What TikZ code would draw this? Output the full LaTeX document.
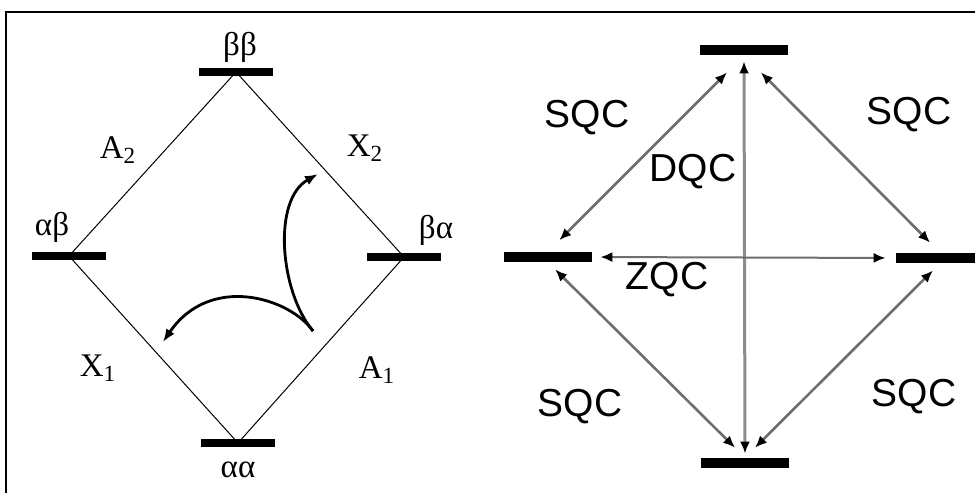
\documentclass[tikz,border=0pt]{standalone}
\usepackage{fontspec}
\setmainfont{Liberation Serif}
\setsansfont{Liberation Sans}
\usetikzlibrary{arrows.meta, positioning, calc}
\definecolor{C_FRAME}{HTML}{000000}
\definecolor{C_COH}  {HTML}{6E6E6E}
\definecolor{C_DQC}  {HTML}{8C8C8C}
\tikzset{
  %% -- energy level bar (left diagram) --
  lvl/bar/.style={
    fill=black, inner sep=0pt, minimum width=37pt, minimum height=4pt
  },
  %% -- level / transition label (left diagram) --
  lvl/lbl/.style={font=\fontsize{16.5}{18}\selectfont, inner sep=1pt},
  %% -- diamond edge --
  lvl/edge/.style={draw, line width=0.5pt},
  %% -- curved arrow --
  lvl/turn/.style={-{Latex[length=6.5pt, width=5pt]}, line width=1.4pt},
  %% -- energy level bar (right diagram) --
  coh/bar/.style={
    fill=black, inner sep=0pt, minimum width=44pt, minimum height=5pt
  },
  %% -- coherence double arrow --
  coh/arr/.style={
    {Latex[length=6pt, width=5pt, color=black]}-{Latex[length=6pt, width=5pt, color=black]},
    line width=1.3pt, color=C_COH
  },
  %% -- coherence label --
  coh/lbl/.style={font=\sffamily\fontsize{19.5}{21}\selectfont, inner sep=1pt},
}

\begin{document}
\begin{tikzpicture}[x=0.5pt, y=-0.5pt]
\useasboundingbox (0,0) rectangle (975,493);

%% ── Frame ────────────────────────────────────────────────────
\draw[C_FRAME, line width=1pt] (6,493) -- (6,12) -- (975,12);

%% ── Left: level bars ─────────────────────────────────────────
\node[lvl/bar] (bb) at (236,72)  {};
\node[lvl/bar] (ab) at (69,256)  {};
\node[lvl/bar] (ba) at (404,257) {};
\node[lvl/bar] (aa) at (238,443) {};

%% ── Left: level labels ───────────────────────────────────────
\node[lvl/lbl] (Lbb) at (240,47)  {ββ};
\node[lvl/lbl] (Lab) at (52,227)  {αβ};
\node[lvl/lbl] (Lba) at (436,230) {βα};
\node[lvl/lbl] (Laa) at (238,470) {αα};

%% ── Left: diamond ────────────────────────────────────────────
\draw[lvl/edge] (bb.center) -- (ab.center);
\draw[lvl/edge] (bb.center) -- (ba.center);
\draw[lvl/edge] (ab.center) -- (aa.center);
\draw[lvl/edge] (ba.center) -- (aa.center);

%% ── Left: transition labels ──────────────────────────────────
\node[lvl/lbl] (LA2) at (118,150) {A\textsubscript{2}};
\node[lvl/lbl] (LX2) at (365,148) {X\textsubscript{2}};
\node[lvl/lbl] (LX1) at (98,368)  {X\textsubscript{1}};
\node[lvl/lbl] (LA1) at (377,370) {A\textsubscript{1}};

%% ── Left: curved arrows ──────────────────────────────────────
\coordinate (pivot) at (313,331);
\coordinate (tipU)  at (318,174);
\coordinate (tipL)  at (163,342);
\draw[lvl/turn] (pivot) .. controls (280,292) and (272,200) .. (tipU);
\draw[lvl/turn] (pivot) .. controls (290,298) and (210,273) .. (tipL);

%% ── Right: level bars ────────────────────────────────────────
\node[coh/bar] (top) at (744,50)  {};
\node[coh/bar] (lft) at (548,257) {};
\node[coh/bar] (rgt) at (940,258) {};
\node[coh/bar] (bot) at (745,463) {};

%% ── Right: coherences ────────────────────────────────────────
\draw[coh/arr, color=C_DQC, line width=1.5pt, shorten <=3pt, shorten >=2pt]
  (top.south) -- (bot.north);
\draw[coh/arr, line width=1pt, shorten <=4pt, shorten >=5pt]
  (lft.east) -- (rgt.west);
\draw[coh/arr, shorten <=12pt, shorten >=8pt] (top.south) -- (lft.north);
\draw[coh/arr, shorten <=12pt, shorten >=7pt] (top.south) -- (rgt.north);
\draw[coh/arr, shorten <=5pt, shorten >=7pt]  (lft.south) -- (bot.north);
\draw[coh/arr, shorten <=5pt, shorten >=7pt]  (rgt.south) -- (bot.north);

%% ── Right: labels ────────────────────────────────────────────
\node[coh/lbl] (sqcTL) at (587,118) {SQC};
\node[coh/lbl] (sqcTR) at (909,115) {SQC};
\node[coh/lbl] (sqcBL) at (580,407) {SQC};
\node[coh/lbl] (sqcBR) at (914,397) {SQC};
\node[coh/lbl] (dqc)   at (693,172) {DQC};
\node[coh/lbl] (zqc)   at (667,280) {ZQC};

\end{tikzpicture}
\end{document}
